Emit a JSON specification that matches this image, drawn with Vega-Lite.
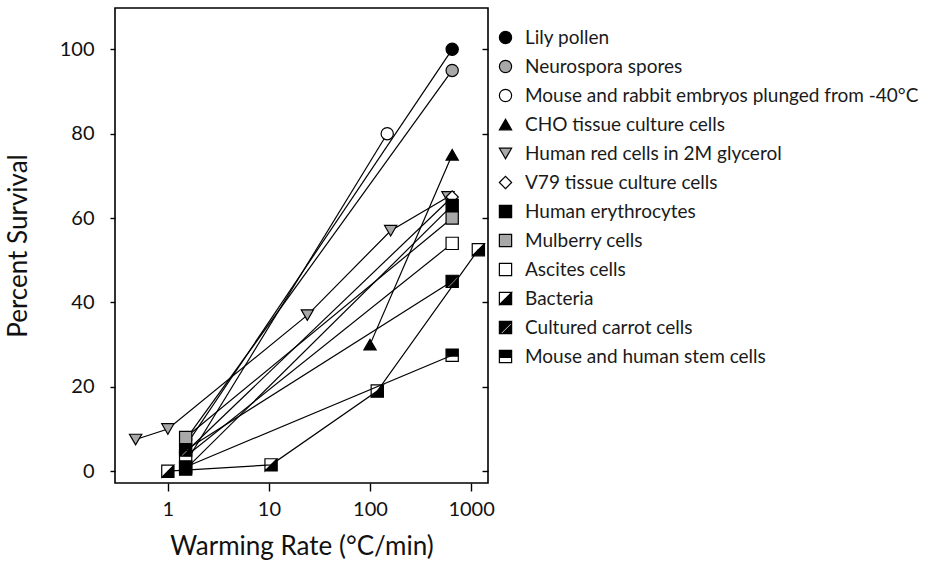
{
  "$schema": "https://vega.github.io/schema/vega-lite/v6.json",
  "width": 373,
  "height": 475,
  "autosize": {"type": "none"},
  "padding": {"left": 115, "top": 8, "right": 451, "bottom": 92},
  "background": "white",
  "config": {
    "view": {"stroke": "black", "strokeWidth": 1.6},
    "font": "Lato",
    "axis": {"domain": false, "grid": false, "tickColor": "black", "tickWidth": 1.4, "labelColor": "#111", "titleColor": "#111", "labelFont": "Lato", "titleFont": "Lato", "titleFontWeight": "normal"},
    "legend": {"orient": "none", "legendX": 381, "legendY": 20, "title": null, "labelFont": "Lato", "labelFontSize": 19, "labelColor": "#1a1a1a", "rowPadding": 9, "labelOffset": 10, "symbolStrokeWidth": 1.2, "padding": 0, "labelLimit": 600}
  },
  "data": {"values": [
    {"series": "Lily pollen", "rate": 1.5, "survival": 6},
    {"series": "Lily pollen", "rate": 650, "survival": 100},
    {"series": "Neurospora spores", "rate": 1.5, "survival": 7.5},
    {"series": "Neurospora spores", "rate": 650, "survival": 95},
    {"series": "Mouse and rabbit embryos plunged from -40°C", "rate": 1.5, "survival": 2},
    {"series": "Mouse and rabbit embryos plunged from -40°C", "rate": 148, "survival": 80},
    {"series": "CHO tissue culture cells", "rate": 100, "survival": 30},
    {"series": "CHO tissue culture cells", "rate": 650, "survival": 75},
    {"series": "Human red cells in 2M glycerol", "rate": 0.48, "survival": 7.5},
    {"series": "Human red cells in 2M glycerol", "rate": 1, "survival": 10},
    {"series": "Human red cells in 2M glycerol", "rate": 24, "survival": 37},
    {"series": "Human red cells in 2M glycerol", "rate": 160, "survival": 57},
    {"series": "Human red cells in 2M glycerol", "rate": 590, "survival": 65},
    {"series": "V79 tissue culture cells", "rate": 1.5, "survival": 4.5},
    {"series": "V79 tissue culture cells", "rate": 650, "survival": 65},
    {"series": "Human erythrocytes", "rate": 1.5, "survival": 0.5},
    {"series": "Human erythrocytes", "rate": 650, "survival": 63},
    {"series": "Mulberry cells", "rate": 1.5, "survival": 8},
    {"series": "Mulberry cells", "rate": 650, "survival": 60},
    {"series": "Ascites cells", "rate": 1.5, "survival": 3.5},
    {"series": "Ascites cells", "rate": 650, "survival": 54},
    {"series": "Bacteria", "rate": 1, "survival": 0},
    {"series": "Bacteria", "rate": 10.5, "survival": 1.5},
    {"series": "Bacteria", "rate": 118, "survival": 19},
    {"series": "Bacteria", "rate": 1180, "survival": 52.5},
    {"series": "Cultured carrot cells", "rate": 1.5, "survival": 5},
    {"series": "Cultured carrot cells", "rate": 650, "survival": 45},
    {"series": "Mouse and human stem cells", "rate": 1.5, "survival": 1},
    {"series": "Mouse and human stem cells", "rate": 650, "survival": 27.5}
  ]},
  "layer": [
    {
      "mark": {"type": "line", "color": "black", "strokeWidth": 1.2},
      "encoding": {
        "x": {"field": "rate", "type": "quantitative", "scale": {"type": "log", "domain": [0.3, 1470], "nice": false},
              "axis": {"values": [1, 10, 100, 1000], "format": "d", "title": "Warming Rate (°C/min)", "labelFontSize": 20, "titleFontSize": 26, "tickSize": 8, "labelPadding": 8, "titlePadding": 14}},
        "y": {"field": "survival", "type": "quantitative", "scale": {"domain": [-2.8, 109.8], "nice": false, "zero": false},
              "axis": {"values": [0, 20, 40, 60, 80, 100], "title": "Percent Survival", "labelFontSize": 20, "titleFontSize": 26, "tickSize": 5, "labelPadding": 16, "titlePadding": 28}},
        "detail": {"field": "series"}
      }
    },
    {
      "mark": {"type": "point", "filled": true, "strokeWidth": 1.2, "opacity": 1},
      "encoding": {
        "x": {"field": "rate", "type": "quantitative"},
        "y": {"field": "survival", "type": "quantitative", "axis": {"orient": "right", "labels": false, "title": null, "tickSize": -6, "values": [0, 20, 40, 60, 80, 100]}},
        "shape": {"field": "series", "type": "nominal",
          "scale": {
          "domain": ["Lily pollen", "Neurospora spores", "Mouse and rabbit embryos plunged from -40°C", "CHO tissue culture cells", "Human red cells in 2M glycerol", "V79 tissue culture cells", "Human erythrocytes", "Mulberry cells", "Ascites cells", "Bacteria", "Cultured carrot cells", "Mouse and human stem cells"],
          "range": ["circle", "circle", "circle", "triangle-up", "triangle-down", "diamond", "square", "square", "square",
            "M-1,-1L1,-1L1,1L-1,1Z M-1,-1L-1,1L1,-1Z",
            "M-1,-1L1,-1L1,1L-1,1Z M-0.5,1L1,-0.5L1,-0.9L-0.9,1Z",
            "M-1,-1L1,-1L1,1L-1,1Z M-1,0.15L-1,1L1,1L1,0.15Z"]}},
        "fill": {"field": "series", "type": "nominal",
          "scale": {
          "domain": ["Lily pollen", "Neurospora spores", "Mouse and rabbit embryos plunged from -40°C", "CHO tissue culture cells", "Human red cells in 2M glycerol", "V79 tissue culture cells", "Human erythrocytes", "Mulberry cells", "Ascites cells", "Bacteria", "Cultured carrot cells", "Mouse and human stem cells"],
          "range": ["black", "#a8a8a8", "white", "black", "#a8a8a8", "white", "black", "#a8a8a8", "white", "black", "black", "black"]}},
        "stroke": {"field": "series", "type": "nominal",
          "scale": {
          "domain": ["Lily pollen", "Neurospora spores", "Mouse and rabbit embryos plunged from -40°C", "CHO tissue culture cells", "Human red cells in 2M glycerol", "V79 tissue culture cells", "Human erythrocytes", "Mulberry cells", "Ascites cells", "Bacteria", "Cultured carrot cells", "Mouse and human stem cells"],
          "range": ["black", "black", "black", "black", "black", "black", "black", "black", "black", "black", "black", "black"]}},
        "size": {"field": "series", "type": "nominal",
          "scale": {
          "domain": ["Lily pollen", "Neurospora spores", "Mouse and rabbit embryos plunged from -40°C", "CHO tissue culture cells", "Human red cells in 2M glycerol", "V79 tissue culture cells", "Human erythrocytes", "Mulberry cells", "Ascites cells", "Bacteria", "Cultured carrot cells", "Mouse and human stem cells"],
          "range": [150, 150, 150, 130, 130, 170, 140, 140, 140, 60, 130, 130]}}
      }
    }
  ],
  "resolve": {"axis": {"y": "independent"}}
}
